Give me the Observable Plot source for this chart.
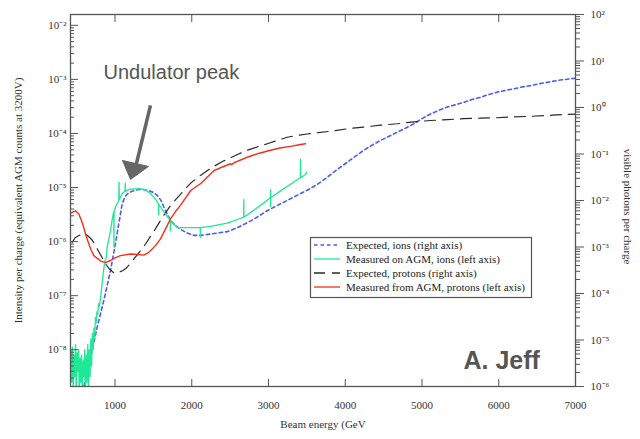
<!DOCTYPE html>
<html><head><meta charset="utf-8">
<script src="https://cdn.jsdelivr.net/npm/d3@7"></script>
<script src="https://cdn.jsdelivr.net/npm/@observablehq/plot@0.6"></script>
<style>body{margin:0;background:#fff}</style>
</head><body><div id="chart"></div>
<script>
// ---------- data (energies in GeV, values as log10) ----------
// Expected, ions (right axis, visible photons per charge)
const ionsExpE = [576,681,768,854,941,1006,1049,1094,1130,1159,1220,1289,1350,1419,1490,1550,1600,1636,1680,1723,1790,1853,1940,2027,2114,2201,2330,2462,2600,2722,2850,2983,3110,3243,3370,3504,3640,3765,3850,3938,4025,4130,4241,4350,4459,4570,4677,4790,4893,5000,5111,5220,5328,5440,5545,5650,5762,5870,5980,6090,6196,6300,6413,6520,6630,6800,7000];
const ionsExpLog = [-6.13,-5.37,-4.72,-4.15,-3.51,-2.92,-2.50,-2.07,-1.92,-1.86,-1.80,-1.77,-1.76,-1.78,-1.82,-1.89,-2.0,-2.14,-2.29,-2.43,-2.54,-2.62,-2.70,-2.75,-2.75,-2.73,-2.70,-2.67,-2.58,-2.48,-2.36,-2.22,-2.11,-2.00,-1.89,-1.78,-1.65,-1.50,-1.39,-1.28,-1.18,-1.05,-0.92,-0.81,-0.71,-0.62,-0.53,-0.44,-0.35,-0.24,-0.14,-0.06,0.01,0.06,0.11,0.17,0.22,0.28,0.33,0.37,0.40,0.44,0.47,0.51,0.54,0.59,0.63];
// Measured on AGM, ions (left axis)
const ionsMeasE = [425,435,445,455,465,475,485,495,505,515,525,535,545,555,565,575,585,595,605,615,625,635,645,655,665,675,685,695,705,715,725,735,745,755,765,775,785,795,811,830,854,870,885,898,920,941,960,975,984,986,988,1010,1049,1053,1056,1060,1094,1130,1134,1137,1140,1200,1332,1400,1462,1530,1566,1568,1570,1593,1650,1720,1722,1724,1810,1941,2110,2112,2114,2244,2462,2676,2678,2680,2896,3024,3026,3027,3028,3200,3415,3417,3419,3482,3495];
const ionsMeasLog = [-8.0,-8.6,-7.95,-8.8,-8.1,-8.5,-7.9,-8.9,-8.05,-8.4,-8.0,-8.9,-8.15,-8.6,-8.1,-8.8,-8.2,-8.5,-8.0,-8.9,-8.1,-8.6,-7.9,-8.7,-8.0,-8.5,-7.8,-8.3,-7.7,-8.0,-7.6,-7.8,-7.4,-7.5,-7.3,-7.35,-7.15,-7.2,-7.05,-6.8,-6.5,-6.35,-6.3,-6.1,-5.95,-5.8,-5.62,-5.5,-5.45,-6.1,-5.45,-5.35,-5.24,-4.9,-5.22,-5.21,-5.11,-5.07,-4.92,-5.07,-5.06,-5.03,-5.02,-5.05,-5.11,-5.22,-5.3,-5.5,-5.31,-5.36,-5.48,-5.6,-5.8,-5.61,-5.74,-5.74,-5.74,-5.92,-5.74,-5.72,-5.66,-5.55,-5.22,-5.55,-5.33,-5.19,-5.04,-5.35,-5.19,-5.02,-4.82,-4.48,-4.82,-4.76,-4.72];
// Expected, protons (right axis)
const protExpE = [442,480,524,570,615,660,707,745,785,830,876,930,980,1040,1098,1150,1202,1265,1332,1400,1462,1530,1593,1660,1723,1790,1853,1920,1984,2050,2114,2200,2283,2400,2505,2610,2722,2850,2983,3110,3243,3370,3504,3650,3808,4020,4241,4460,4677,4890,5111,5330,5545,5760,5980,6200,6413,6700,7000];
const protExpLog = [-2.90,-2.80,-2.76,-2.72,-2.72,-2.78,-2.86,-2.97,-3.09,-3.22,-3.36,-3.48,-3.55,-3.55,-3.51,-3.45,-3.35,-3.22,-3.08,-2.93,-2.77,-2.60,-2.43,-2.26,-2.11,-1.98,-1.87,-1.74,-1.63,-1.54,-1.46,-1.36,-1.27,-1.16,-1.08,-1.00,-0.92,-0.85,-0.78,-0.71,-0.64,-0.60,-0.57,-0.54,-0.51,-0.46,-0.42,-0.38,-0.35,-0.31,-0.28,-0.26,-0.24,-0.23,-0.22,-0.20,-0.19,-0.165,-0.14];
// Measured from AGM, protons (left axis)
const protMeasE = [430,442,485,528,560,593,625,658,690,724,760,790,811,876,941,1000,1071,1202,1300,1375,1420,1462,1530,1593,1660,1723,1790,1853,1920,1984,2050,2114,2200,2287,2400,2505,2520,2540,2722,2870,3026,3150,3286,3400,3482];
const protMeasLog = [-5.47,-5.46,-5.43,-5.49,-5.6,-5.74,-5.9,-6.04,-6.16,-6.26,-6.3,-6.33,-6.36,-6.39,-6.35,-6.3,-6.26,-6.23,-6.24,-6.25,-6.22,-6.17,-6.07,-5.95,-5.76,-5.58,-5.44,-5.33,-5.19,-5.06,-4.99,-4.93,-4.81,-4.69,-4.62,-4.56,-4.58,-4.55,-4.44,-4.37,-4.31,-4.27,-4.24,-4.21,-4.19];

// axes
const xTicks = [1000,2000,3000,4000,5000,6000,7000];
const xDomain = [420,7000];
const leftExpDomain = [-8.68,-1.8];
const rightExpDomain = [-6,2];
const leftMajorExp = [-8,-7,-6,-5,-4,-3,-2];
const rightMajorExp = [-6,-5,-4,-3,-2,-1,0,1,2];

const seriesNames = ["Expected, ions (right axis)","Measured on AGM, ions (left axis)","Expected, protons (right axis)","Measured from AGM, protons (left axis)"];
const seriesColors = ["#4a5ef0","#1fe896","#2a2a2a","#f2301c"];
const seriesDash = ["3.5,3","none","11,7","none"];

// ---------- helpers ----------
const rightToLeftExp = e => leftExpDomain[0] + (e - rightExpDomain[0]) * (leftExpDomain[1]-leftExpDomain[0])/(rightExpDomain[1]-rightExpDomain[0]);
const SUP = {"-":"\u207B","0":"\u2070","1":"\u00B9","2":"\u00B2","3":"\u00B3","4":"\u2074","5":"\u2075","6":"\u2076","7":"\u2077","8":"\u2078","9":"\u2079"};
const sup = e => "10" + String(e).split("").map(c => SUP[c]).join("");

const rowsLeft = (E, L) => E.map((x,i) => ({x, y: 10**L[i]}));
const rowsRight = (E, L) => E.map((x,i) => ({x, y: 10**rightToLeftExp(L[i])}));

const minorsFor = (lo, hi) => { const out=[]; for (let e=Math.floor(lo); e<=Math.ceil(hi); e++) for (let k=2;k<=9;k++){ const v=Math.log10(k)+e; if (v>lo && v<hi) out.push(v);} return out; };
const leftMinor = minorsFor(leftExpDomain[0], leftExpDomain[1]).map(e => 10**e);
const rightMinor = minorsFor(rightExpDomain[0], rightExpDomain[1]).map(e => 10**rightToLeftExp(e));

const grey = "#555";
const serif = "'Liberation Serif','Times New Roman',serif";
const sans = "'Liberation Sans',Helvetica,Arial,sans-serif";

const chart = Plot.plot({
  width: 640, height: 439,
  marginLeft: 70, marginRight: 65, marginTop: 14, marginBottom: 53,
  style: {fontFamily: serif, fontSize: "11px", color: "#333", background: "white"},
  x: {domain: xDomain},
  y: {type: "log", domain: [10**leftExpDomain[0], 10**leftExpDomain[1]]},
  marks: [
    Plot.line(rowsRight(ionsExpE, ionsExpLog), {x:"x", y:"y", stroke: seriesColors[0], strokeWidth: 1.6, strokeDasharray: seriesDash[0], clip: true}),
    Plot.line(rowsRight(protExpE, protExpLog), {x:"x", y:"y", stroke: seriesColors[2], strokeWidth: 1.2, strokeDasharray: seriesDash[2], clip: true}),
    Plot.line(rowsLeft(ionsMeasE, ionsMeasLog), {x:"x", y:"y", stroke: seriesColors[1], strokeWidth: 1.3, clip: true}),
    Plot.line(rowsLeft(protMeasE, protMeasLog), {x:"x", y:"y", stroke: seriesColors[3], strokeWidth: 1.4, clip: true}),
    Plot.frame({stroke: grey, strokeWidth: 1.3}),
    // left axis
    Plot.axisY({anchor: "left", ticks: leftMinor, tickSize: -4, tickFormat: () => "", stroke: grey, label: null}),
    Plot.axisY({anchor: "left", ticks: leftMajorExp.map(e => 10**e), tickSize: -8, tickPadding: 12, tickFormat: d => sup(Math.round(Math.log10(d))), stroke: grey, label: null}),
    // right axis (tick marks + labels)
    Plot.axisY(rightMinor, {anchor: "right", tickSize: 4, tickFormat: () => "", stroke: grey, label: null}),
    Plot.axisY(rightMajorExp.map(e => 10**rightToLeftExp(e)), {anchor: "right", tickSize: 8, tickFormat: () => "", stroke: grey, label: null}),
    Plot.text(rightMajorExp, {y: e => 10**rightToLeftExp(e), text: e => sup(e), frameAnchor: "right", textAnchor: "start", dx: 15, fontSize: 11}),
    // bottom/top axes
    Plot.axisX({anchor: "bottom", ticks: xTicks, tickSize: -7, tickPadding: 22, tickFormat: d => String(d), stroke: grey, label: null}),
    Plot.axisX({anchor: "top", ticks: xTicks, tickSize: -7, tickFormat: () => "", stroke: grey, label: null}),
    // axis titles
    Plot.text(["Intensity per charge (equivalent AGM counts at 3200V)"], {frameAnchor: "left", textAnchor: "middle", rotate: -90, dx: -52, fontSize: 11}),
    Plot.text(["visible photons per charge"], {frameAnchor: "right", textAnchor: "middle", rotate: 90, dx: 52, dy: 6, fontSize: 11}),
    Plot.text(["Beam energy (GeV"], {frameAnchor: "bottom", dy: 41, fontSize: 11}),
    // annotations
    Plot.text(["Undulator peak"], {x: 850, y: 10**-2.87, textAnchor: "start", fontFamily: sans, fontSize: 20, fill: grey}),
    Plot.link([{x1: 1462, y1: 10**-3.48, x2: 1267, y2: 10**-4.63}], {x1:"x1", y1:"y1", x2:"x2", y2:"y2", stroke: "#666", strokeWidth: 3.5}),
    Plot.line([{x:1098,y:10**-4.50},{x:1436,y:10**-4.61},{x:1202,y:10**-4.85},{x:1098,y:10**-4.50}], {x:"x", y:"y", fill: "#666", stroke: "#666", strokeWidth: 1}),
    Plot.text(["A. Jeff"], {x: 5541, y: 10**-8.20, textAnchor: "start", fontFamily: sans, fontWeight: "bold", fontSize: 25, fill: grey})
  ]
});
document.getElementById("chart").appendChild(chart);

// legend (inside the plot frame)
const svg = d3.select(chart);
const lg = svg.append("g").attr("font-family", serif).attr("font-size", 11).attr("text-anchor", "start");
lg.append("rect").attr("x", 310.5).attr("y", 237.5).attr("width", 221).attr("height", 60).attr("fill", "white").attr("stroke", grey).attr("stroke-width", 1.2);
seriesNames.forEach((name, i) => {
  const yy = 245 + i * 14;
  lg.append("line").attr("x1", 314).attr("x2", 340).attr("y1", yy).attr("y2", yy)
    .attr("stroke", seriesColors[i]).attr("stroke-width", i === 0 ? 1.6 : 1.3)
    .attr("stroke-dasharray", seriesDash[i] === "none" ? null : seriesDash[i]);
  lg.append("text").attr("x", 346).attr("y", yy).attr("dy", "0.35em").attr("fill", "#222").attr("text-anchor", "start").text(name);
});
</script>
</body></html>
